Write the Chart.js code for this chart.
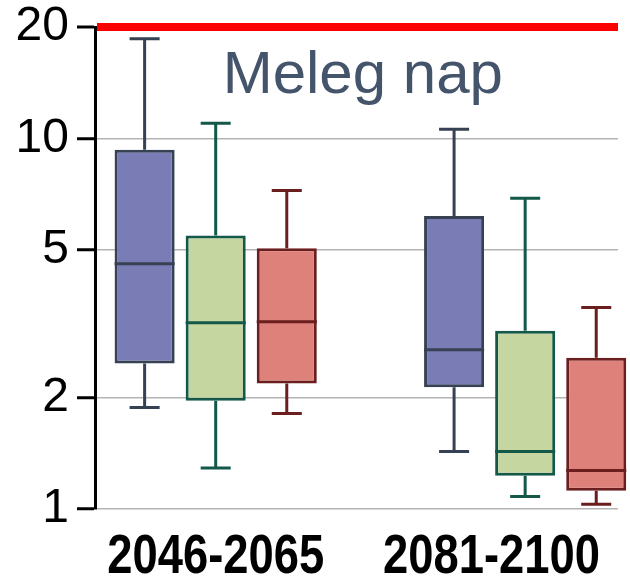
<!DOCTYPE html>
<html>
<head>
<meta charset="utf-8">
<title>Meleg nap</title>
<script src="https://cdn.jsdelivr.net/npm/chart.js@4.4.1/dist/chart.umd.min.js"></script>
<style>
  html, body { margin: 0; padding: 0; background: #ffffff; }
  #wrap { width: 630px; height: 577px; }
</style>
</head>
<body>
<div id="wrap"><canvas id="chart"></canvas></div>
<script>
// Meleg nap - box plots on a log axis, two periods, three series each

const periods = ["2046-2065", "2081-2100"];
const yTicks = [1, 2, 5, 10, 20];
const titleText = "Meleg nap";
const limitValue = 20;   // red line on top

const seriesNames = ["A", "B", "C"];

// series A (blue)
const aMin = [1.88, 1.43];
const aQ1  = [2.47, 2.13];
const aMed = [4.59, 2.69];
const aQ3  = [9.32, 6.18];
const aMax = [18.6, 10.6];

// series B (green)
const bMin = [1.29, 1.08];
const bQ1  = [1.96, 1.23];
const bMed = [3.18, 1.43];
const bQ3  = [5.47, 3.03];
const bMax = [11.0, 6.90];

// series C (red)
const cMin = [1.81, 1.03];
const cQ1  = [2.18, 1.12];
const cMed = [3.20, 1.27];
const cQ3  = [5.06, 2.56];
const cMax = [7.24, 3.50];

const FILLS   = ["#7a7cb6", "#c5d6a0", "#df817b"];
const BORDERS = ["#364253", "#14584a", "#6a1e1e"];

function boxDataset(i, min, q1, med, q3, max) {
    return {
        label: seriesNames[i],
        data: periods.map((p, j) => ({ x: j, y: [q1[j], q3[j]] })),
        stats: { min: min, med: med, max: max, q1: q1, q3: q3 },
        backgroundColor: FILLS[i],
        borderColor: BORDERS[i],
        borderWidth: 3,
        borderSkipped: false,
        categoryPercentage: 0.689,
        barPercentage: 0.845,
        clip: false
    };
}

// whiskers, caps and median lines, placed from the bars and the y scale
const boxWhiskers = {
    id: "boxWhiskers",
    afterDatasetsDraw(chart) {
        const ctx = chart.ctx;
        const y = chart.scales.y;
        chart.data.datasets.forEach((ds, i) => {
            const meta = chart.getDatasetMeta(i);
            const s = ds.stats;
            meta.data.forEach((bar, j) => {
                const half = bar.width / 2;
                const cap = bar.width / 4;
                const yMin = y.getPixelForValue(s.min[j]);
                const yQ1 = y.getPixelForValue(s.q1[j]);
                const yMed = y.getPixelForValue(s.med[j]);
                const yQ3 = y.getPixelForValue(s.q3[j]);
                const yMax = y.getPixelForValue(s.max[j]);
                ctx.save();
                ctx.strokeStyle = ds.borderColor;
                ctx.lineWidth = 3;
                ctx.beginPath();
                ctx.moveTo(bar.x, yQ3);
                ctx.lineTo(bar.x, yMax);
                ctx.moveTo(bar.x - cap, yMax);
                ctx.lineTo(bar.x + cap, yMax);
                ctx.moveTo(bar.x, yQ1);
                ctx.lineTo(bar.x, yMin);
                ctx.moveTo(bar.x - cap, yMin);
                ctx.lineTo(bar.x + cap, yMin);
                ctx.moveTo(bar.x - half, yMed);
                ctx.lineTo(bar.x + half, yMed);
                ctx.stroke();
                ctx.restore();
            });
        });
    }
};

// title inside the plot area, and the narrow bold period labels under the x axis
const textLayer = {
    id: "textLayer",
    afterDraw(chart) {
        const a = chart.chartArea;
        const ctx = chart.ctx;
        ctx.save();
        ctx.font = "60px 'Liberation Sans', Arial, sans-serif";
        ctx.fillStyle = "#44546a";
        ctx.textAlign = "center";
        ctx.textBaseline = "alphabetic";
        ctx.fillText(titleText, a.left + a.width * 0.512, a.top + 66);
        ctx.restore();

        const xs = chart.scales.x;
        const squeeze = 0.81;   // condensed look
        ctx.save();
        ctx.font = "bold 56px 'Liberation Sans', Arial, sans-serif";
        ctx.fillStyle = "#000000";
        ctx.textAlign = "center";
        ctx.textBaseline = "alphabetic";
        periods.forEach((label, j) => {
            const w = ctx.measureText(label).width * squeeze;
            // keep the label inside the plot span
            const px = Math.min(xs.getPixelForValue(j), a.right - w / 2 - 18);
            ctx.save();
            ctx.translate(px, xs.top + 64);
            ctx.scale(squeeze, 1);
            ctx.fillText(label, 0, 0);
            ctx.restore();
        });
        ctx.restore();
    }
};

new Chart(document.getElementById("chart"), {
    type: "bar",
    data: {
        datasets: [
            boxDataset(0, aMin, aQ1, aMed, aQ3, aMax),
            boxDataset(1, bMin, bQ1, bMed, bQ3, bMax),
            boxDataset(2, cMin, cQ1, cMed, cQ3, cMax)
        ]
    },
    options: {
        responsive: true,
        maintainAspectRatio: false,
        animation: false,
        layout: { padding: { top: 27, right: 12, left: 0, bottom: 0 } },
        plugins: {
            legend: { display: false },
            tooltip: { enabled: false }
        },
        scales: {
            x: {
                type: "linear",
                min: -0.39,
                max: 1.3,
                bounds: "data",
                offset: false,
                afterBuildTicks(scale) {
                    scale.ticks = periods.map((p, j) => ({ value: j }));
                },
                afterFit(scale) {
                    scale.height = 68;
                    scale.paddingLeft = 0;
                    scale.paddingRight = 0;
                },
                grid: { display: false, drawTicks: false },
                border: { display: false },
                ticks: { display: false }
            },
            y: {
                type: "logarithmic",
                min: 1,
                max: 20,
                afterFit(scale) {
                    scale.width = 95;
                    scale.paddingTop = 0;
                    scale.paddingBottom = 0;
                },
                afterBuildTicks(scale) {
                    scale.ticks = yTicks.map(v => ({ value: v }));
                },
                grid: {
                    color: c => (c.tick && c.tick.value === limitValue) ? "#ff0000" : "#b4b4b4",
                    lineWidth: c => (c.tick && c.tick.value === limitValue) ? 8 : 1.5,
                    tickColor: "#000000",
                    tickWidth: 3,
                    tickLength: 18
                },
                border: { color: "#000000", width: 3 },
                ticks: {
                    padding: 8,
                    color: "#000000",
                    font: { family: "'Liberation Sans', Arial, sans-serif", size: 48, lineHeight: 1 },
                    callback: v => String(v)
                }
            }
        }
    },
    plugins: [boxWhiskers, textLayer]
});
</script>
</body>
</html>
